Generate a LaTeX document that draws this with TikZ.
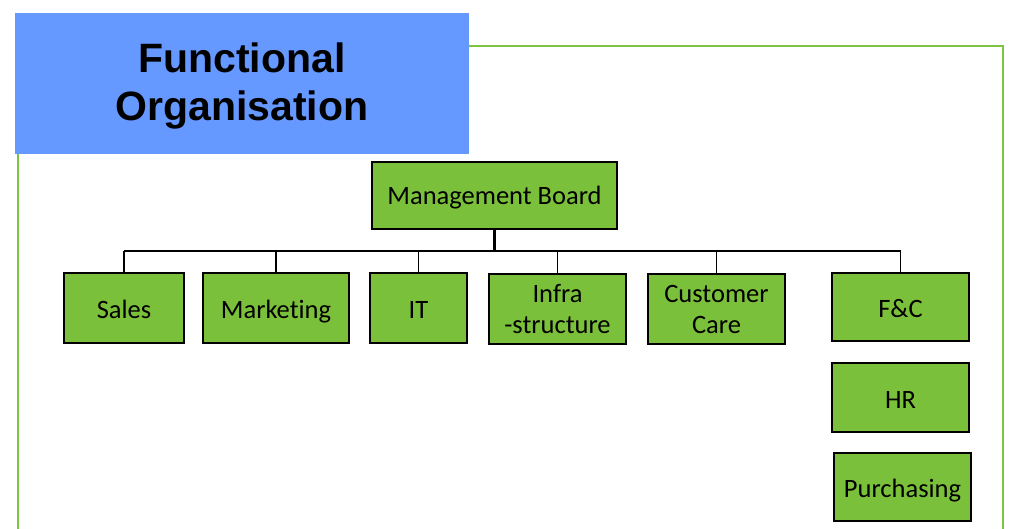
\documentclass[tikz,border=0pt]{standalone}
\usepackage{fontspec}
\setmainfont{Carlito}[Ligatures=NoCommon]
\newfontfamily\titlefont{Liberation Sans}
\usepackage{xcolor}
\definecolor{deptgreen}{RGB}{123,192,58}
\definecolor{framegreen}{RGB}{125,196,66}
\definecolor{titleblue}{RGB}{102,153,255}
\tikzset{
  unit/.style={draw=black, line width=1.8pt, fill=deptgreen, align=center,
    inner sep=0pt, font=\fontsize{26.5}{31}\selectfont},
  oneline/.style={text height=21pt, text depth=0pt},
  link/.style={line width=1.8pt}
}

\begin{document}
\begin{tikzpicture}[x=1pt,y=-1pt]
\useasboundingbox (0,0) rectangle (1015,528);
% green frame round the chart
\draw[framegreen, line width=1.6pt] (18,540) -- (18,46) -- (1003,46) -- (1003,540);
% title
\fill[titleblue] (15,13) rectangle (469,154);
\node[align=center, font=\titlefont\bfseries\fontsize{41}{47.5}\selectfont]
  (title) at (242,86) {Functional\\Organisation};
% boxes
\node[unit, minimum width=245pt, minimum height=67pt, text height=19pt, text depth=2pt]
  (board) at (494.5,195.5) {Management Board};
\node[unit, oneline, minimum width=120pt, minimum height=70pt] (sales) at (124,308) {Sales};
\node[unit, oneline, minimum width=146pt, minimum height=70pt] (mkt) at (276,308) {Marketing};
\node[unit, oneline, minimum width=97pt, minimum height=70pt] (it) at (418.5,308) {IT};
\node[unit, minimum width=137pt, minimum height=70pt] (infra) at (557.5,309) {Infra\\-structure};
\node[unit, minimum width=137pt, minimum height=70pt] (care) at (716.5,309) {Customer\\Care};
\node[unit, oneline, minimum width=137pt, minimum height=68pt] (fc) at (900.5,307) {F\&C};
\node[unit, oneline, minimum width=137pt, minimum height=69pt] (hr) at (900.5,397.5) {HR};
\node[unit, oneline, minimum width=137pt, minimum height=68pt] (purch) at (902.5,487) {Purchasing};
% connectors
\coordinate (bar) at (494.5,251);
\draw[line width=2.6pt] (board.south) -- (bar);
\draw[link] (sales.north |- bar) -- (fc.north |- bar);
\foreach \d in {sales,mkt,it,infra,care,fc}{
  \draw[link] (\d.north |- bar) -- (\d.north);
}
\end{tikzpicture}
\end{document}
